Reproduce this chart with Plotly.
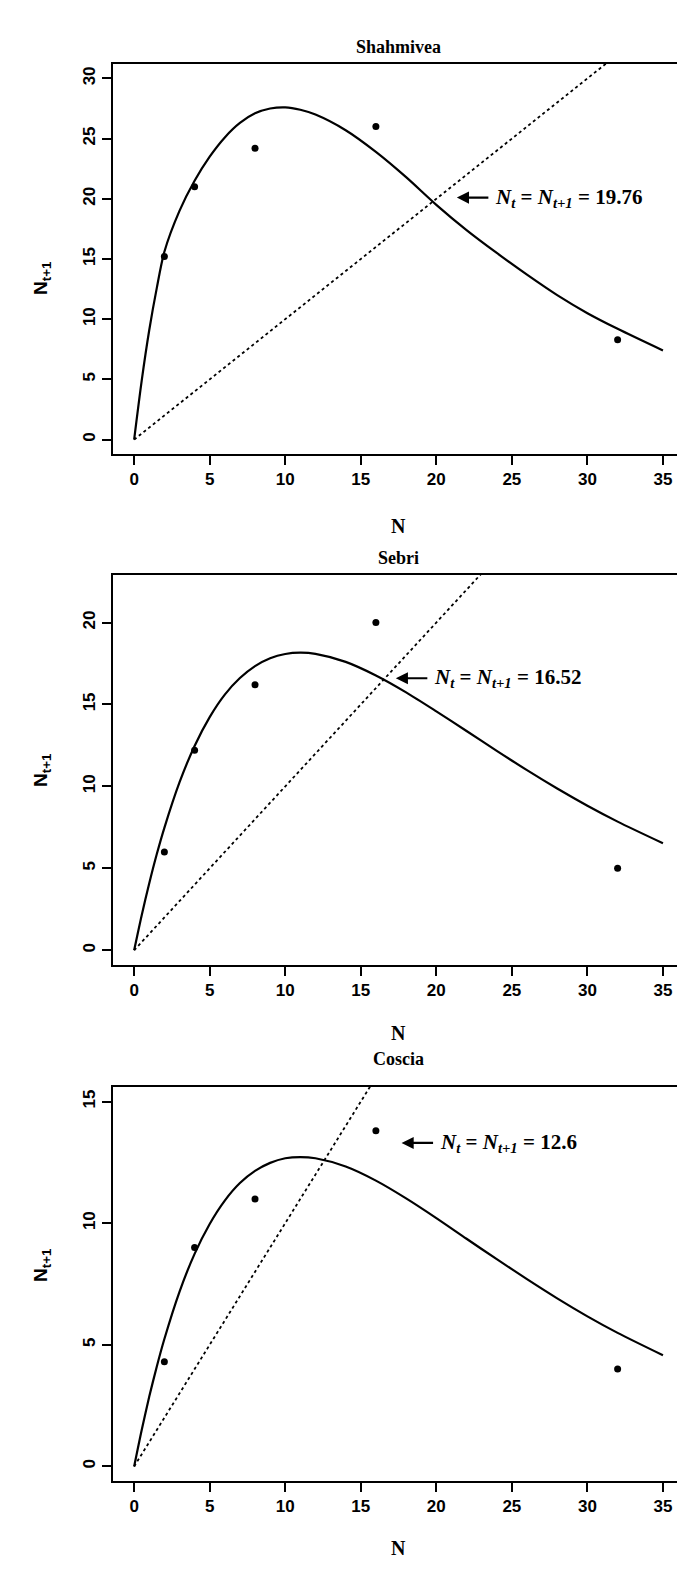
import plotly.graph_objects as go

# ---------------- data ----------------
titles = ["Shahmivea", "Sebri", "Coscia"]
obs_n = [2, 4, 8, 16, 32]
obs_shahmivea = [15.2, 21.0, 24.2, 26.0, 8.3]
obs_sebri = [6.0, 12.2, 16.2, 20.0, 5.0]
obs_coscia = [4.3, 9.0, 11.0, 13.8, 4.0]

curve_n = [0, 0.5, 1, 1.5, 2, 3, 4, 5, 6, 7, 8, 9, 10, 11, 12, 14, 16, 18, 20, 22, 24, 26, 28, 30, 32, 35]
curve_shahmivea = [0, 4.9, 9.1, 12.6, 15.6, 19.0, 21.5, 23.5, 25.1, 26.3, 27.1, 27.5, 27.6, 27.4,
                   27.0, 25.7, 23.9, 21.8, 19.5, 17.4, 15.5, 13.7, 12.0, 10.5, 9.2, 7.4]
curve_sebri = [0, 2.14, 4.09, 5.87, 7.47, 10.24, 12.47, 14.23, 15.60, 16.61, 17.34, 17.82, 18.08, 18.16,
               18.09, 17.60, 16.77, 15.74, 14.58, 13.38, 12.17, 10.99, 9.87, 8.82, 7.85, 6.53]
curve_coscia = [0, 1.50, 2.87, 4.11, 5.24, 7.18, 8.74, 9.97, 10.93, 11.65, 12.15, 12.48, 12.67, 12.72,
                12.67, 12.33, 11.75, 11.02, 10.21, 9.36, 8.52, 7.70, 6.91, 6.17, 5.49, 4.57]

equilibria = [19.76, 16.52, 12.6]
eq_labels = ["19.76", "16.52", "12.6"]
line_end = [31.25, 24.0, 16.0]

x_ticks = [0, 5, 10, 15, 20, 25, 30, 35]
y_ticks = [[0, 5, 10, 15, 20, 25, 30], [0, 5, 10, 15, 20], [0, 5, 10, 15]]
y_ranges = [[-1.2, 31.2], [-0.9, 22.9], [-0.6, 15.6]]

obs_all = [obs_shahmivea, obs_sebri, obs_coscia]
curves_all = [curve_shahmivea, curve_sebri, curve_coscia]

# ---------------- layout geometry (pixels) ----------------
W, H = 677, 1575
panel_px = [(64, 454), (575, 965), (1087, 1481)]
title_px = [35, 558, 1071]
xlabel_gap = [72, 68, 80]
left_px = 113
arrow_tip_dx = [1.6, 0.8, 5.1]
arrow_y = [20.1, 16.6, 13.3]


def py(p):
    return 1 - p / H


fig = go.Figure()

for i in range(3):
    xa = "x" if i == 0 else f"x{i + 1}"
    ya = "y" if i == 0 else f"y{i + 1}"
    fig.add_trace(go.Scatter(x=[0, line_end[i]], y=[0, line_end[i]], mode="lines",
                             line=dict(color="black", width=1.8, dash="dot"),
                             xaxis=xa, yaxis=ya, showlegend=False, hoverinfo="skip"))
    fig.add_trace(go.Scatter(x=curve_n, y=curves_all[i], mode="lines",
                             line=dict(color="black", width=2.2, shape="spline", smoothing=0.8),
                             xaxis=xa, yaxis=ya, showlegend=False, hoverinfo="skip"))
    fig.add_trace(go.Scatter(x=obs_n, y=obs_all[i], mode="markers",
                             marker=dict(color="black", size=7),
                             xaxis=xa, yaxis=ya, showlegend=False))

    top, bot = panel_px[i]
    axis_common = dict(showline=True, linecolor="black", linewidth=2, ticks="outside",
                       ticklen=9, tickwidth=1.5, tickcolor="black", showgrid=False, zeroline=False,
                       tickfont=dict(family="Liberation Sans", size=17, color="black"))
    xkey = "xaxis" if i == 0 else f"xaxis{i + 1}"
    ykey = "yaxis" if i == 0 else f"yaxis{i + 1}"
    fig.update_layout(**{
        xkey: dict(domain=[left_px / W, 1.0], range=[-1.4, 35.93], tickvals=x_ticks,
                   ticktext=[f"<b>{t}</b>" for t in x_ticks], mirror=True, anchor=ya, **axis_common),
        ykey: dict(domain=[py(bot), py(top)], range=y_ranges[i], tickvals=y_ticks[i],
                   ticktext=[f"<b>{t}</b>" for t in y_ticks[i]], tickangle=-90, mirror=False,
                   anchor=xa, **axis_common),
    })

    fig.add_annotation(text=f"<b>{titles[i]}</b>", xref="paper", yref="paper",
                       x=(left_px + 684) / 2 / W, y=py(title_px[i]), showarrow=False,
                       font=dict(family="Liberation Serif", size=18, color="black"))
    fig.add_annotation(text="<b>N</b>", xref="paper", yref="paper",
                       x=(left_px + 684) / 2 / W, y=py(bot + xlabel_gap[i]), showarrow=False,
                       font=dict(family="Liberation Serif", size=20, color="black"))
    fig.add_annotation(text="<b>N<sub>t+1</sub></b>", xref="paper", yref="paper",
                       x=28 / W, y=py((top + bot) / 2), showarrow=False, textangle=-90,
                       font=dict(family="Liberation Sans", size=19, color="black"))
    tip = equilibria[i] + arrow_tip_dx[i]
    fig.add_annotation(x=tip, y=arrow_y[i], xref=xa, yref=ya, ax=33, ay=0, text="",
                       showarrow=True, arrowhead=2, arrowsize=1.1, arrowwidth=2.2, arrowcolor="black")
    fig.add_annotation(x=tip + 36 / 15.11, y=arrow_y[i], xref=xa, yref=ya, xanchor="left",
                       text=f"<b><i>N<sub>t</sub></i> = <i>N<sub>t+1</sub></i> = {eq_labels[i]}</b>",
                       showarrow=False, font=dict(family="Liberation Serif", size=21, color="black"))

fig.update_layout(width=W, height=H, margin=dict(l=0, r=0, t=0, b=0),
                  plot_bgcolor="white", paper_bgcolor="white")

fig.write_html("out.html", config={"displayModeBar": False},
               post_script="document.body.style.margin='0';document.body.style.overflow='hidden';")
